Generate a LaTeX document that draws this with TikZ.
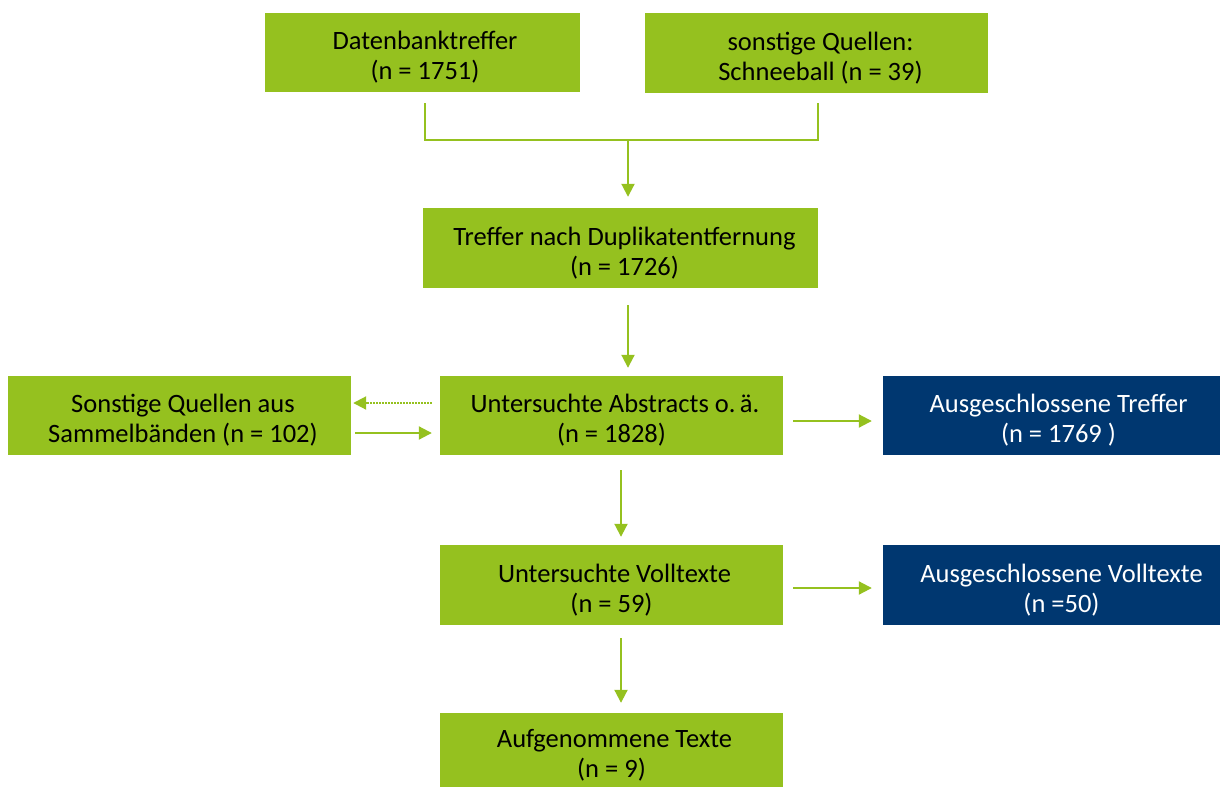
\documentclass[tikz,border=0pt]{standalone}
\usepackage{fontspec}
\setmainfont{Carlito}
\usetikzlibrary{arrows.meta,calc}
\definecolor{lgreen}{HTML}{95C11F}
\definecolor{navy}{HTML}{003770}
\newcommand{\toppad}{\rule{0pt}{28pt}}
\begin{document}
\begin{tikzpicture}[x=1pt,y=-1pt,
  gbox/.style={fill=lgreen, draw=none, inner sep=0pt, align=center, font=\fontsize{26.5}{30}\selectfont, text=black},
  nbox/.style={gbox, fill=navy, text=white},
  conn/.style={draw=lgreen, line width=2pt},
  arr/.style={conn, -{Triangle[length=13pt,width=13pt]}},
  dotarr/.style={arr, dash pattern=on 1.5pt off 1.5pt}]
\useasboundingbox (0,0) rectangle (1220,787);
\node[gbox, minimum width=315pt, minimum height=79pt] (db) at (422.5,52.5) {\toppad\hspace*{5pt}Datenbanktreffer\\\hspace*{5pt}(n = 1751)};
\node[gbox, minimum width=343pt, minimum height=80pt] (sq) at (816.5,53) {\toppad\hspace*{8pt}sonstige Quellen:\\\hspace*{8pt}Schneeball (n = 39)};
\node[gbox, minimum width=395pt, minimum height=80pt] (dup) at (620.5,248) {\toppad\hspace*{8pt}Treffer nach Duplikatentfernung\\\hspace*{8pt}(n = 1726)};
\node[gbox, minimum width=343pt, minimum height=79pt] (sam) at (179.5,415.5) {\toppad\hspace*{7pt}Sonstige Quellen aus\\\hspace*{7pt}Sammelbänden (n = 102)};
\node[gbox, minimum width=343pt, minimum height=79pt] (abs) at (611.5,415.5) {\toppad\hspace*{7pt}Untersuchte Abstracts o.\,ä.\\(n = 1828)};
\node[nbox, minimum width=337pt, minimum height=79pt] (aus1) at (1051.5,415.5) {\toppad\hspace*{14pt}Ausgeschlossene Treffer\\\hspace*{14pt}(n = 1769 )};
\node[gbox, minimum width=343pt, minimum height=80pt] (vt) at (611.5,585) {\toppad\hspace*{6pt}Untersuchte Volltexte\\(n = 59)};
\node[nbox, minimum width=337pt, minimum height=80pt] (aus2) at (1051.5,585) {\toppad\hspace*{20pt}Ausgeschlossene Volltexte\\\hspace*{20pt}(n =50)};
\node[gbox, minimum width=343pt, minimum height=74pt] (auf) at (611.5,750) {\toppad\hspace*{6pt}Aufgenommene Texte\\(n = 9)};
% bracket
\coordinate (b1) at (425,140);
\coordinate (b2) at (818,140);
\coordinate (bm) at (628,140);
\draw[conn] ($(db.south -| b1)+(0,11)$) -- (b1) -- (b2) -- ($(sq.south -| b2)+(0,10)$);
\draw[arr, shorten >=11pt] (bm) -- (dup.north -| bm);
\coordinate (c1) at (628,0);
\coordinate (c2) at (621,0);
\coordinate (r1) at (0,403);
\coordinate (r2) at (0,433);
\coordinate (r3) at (0,421);
\coordinate (r4) at (0,588);
\draw[arr, shorten <=17pt, shorten >=8pt] (dup.south -| c1) -- (abs.north -| c1);
\draw[dotarr, shorten <=8pt, shorten >=2pt] (abs.west |- r1) -- (sam.east |- r1);
\draw[arr, shorten <=4pt, shorten >=8pt] (sam.east |- r2) -- (abs.west |- r2);
\draw[arr, shorten <=10pt, shorten >=11pt] (abs.east |- r3) -- (aus1.west |- r3);
\draw[arr, shorten <=15pt, shorten >=8pt] (abs.south -| c2) -- (vt.north -| c2);
\draw[arr, shorten <=10pt, shorten >=11pt] (vt.east |- r4) -- (aus2.west |- r4);
\draw[arr, shorten <=13pt, shorten >=10pt] (vt.south -| c2) -- (auf.north -| c2);
\end{tikzpicture}
\end{document}
